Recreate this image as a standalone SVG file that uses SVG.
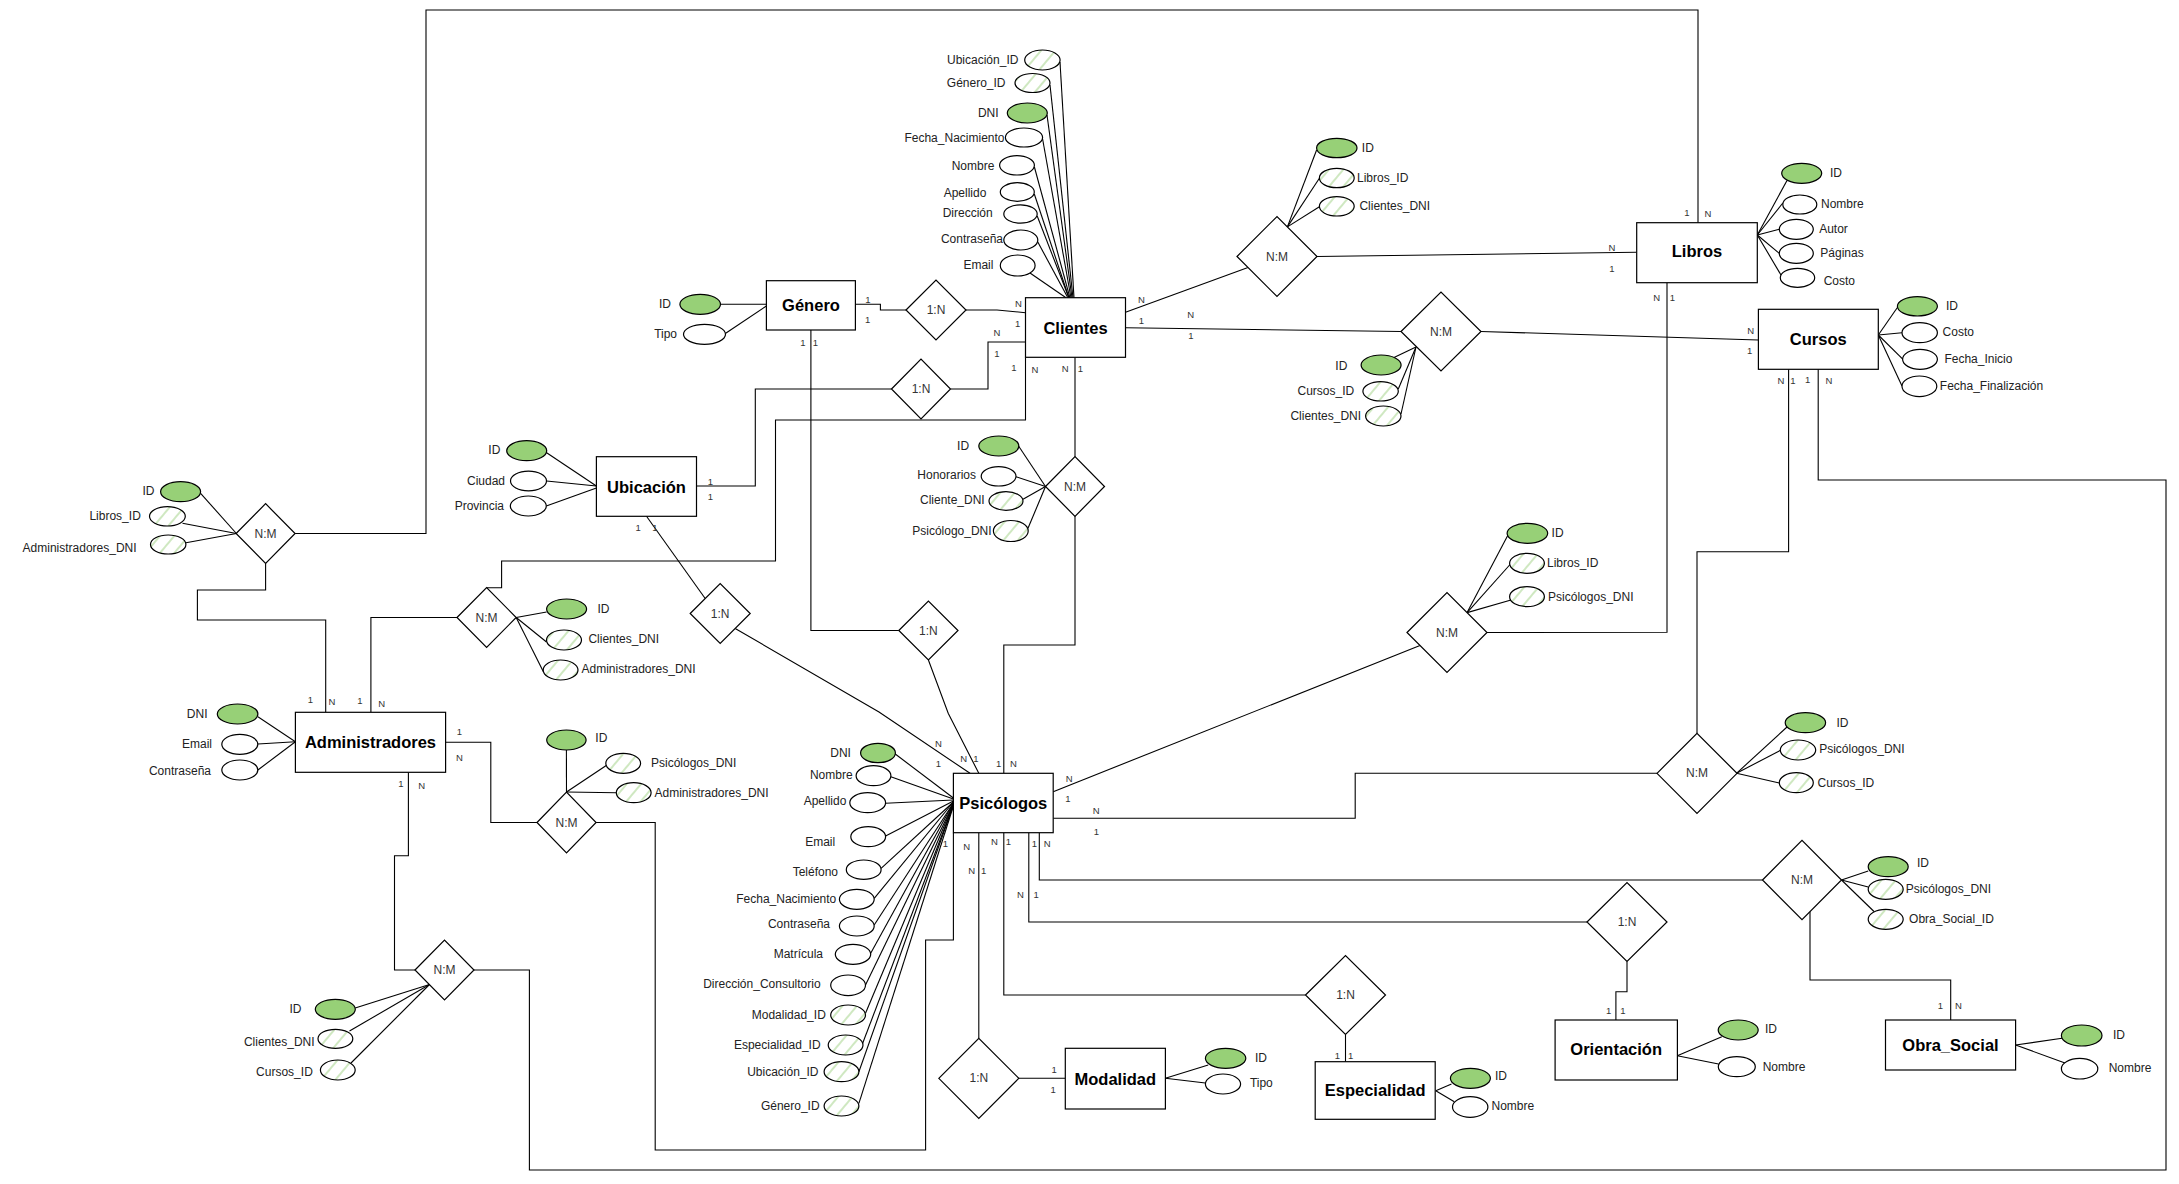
<svg xmlns="http://www.w3.org/2000/svg" width="2179" height="1184" viewBox="0 0 2179 1184">
<defs>
<pattern id="hatch" patternUnits="userSpaceOnUse" width="11" height="11" patternTransform="rotate(40)">
<rect width="11" height="11" fill="#fff"/>
<line x1="5" y1="0" x2="5" y2="11" stroke="#9fd184" stroke-width="1"/>
</pattern>
<style>
text{font-family:"Liberation Sans",Arial,sans-serif;dominant-baseline:central}
.ent rect{fill:#fff;stroke:#000;stroke-width:1.2}
.ent text{font-size:16.5px;font-weight:bold;text-anchor:middle;fill:#000}
.rel polygon{fill:#fff;stroke:#000;stroke-width:1.2}
.rel text{font-size:12px;text-anchor:middle;fill:#333}
.pk{fill:#97d077;stroke:#000;stroke-width:1.2}
.at{fill:#fff;stroke:#000;stroke-width:1.2}
.fk{fill:url(#hatch);stroke:#000;stroke-width:1.2}
.lbl{font-size:12px;fill:#222}
.e{text-anchor:end}.s{text-anchor:start}.m{text-anchor:middle}
.card{font-size:9.5px;fill:#333;text-anchor:middle}
.cn{fill:none;stroke:#000;stroke-width:1.1}
</style>
</defs>
<rect width="2179" height="1184" fill="#fff"/>

<g id="connectors">
<!-- entity-relationship connectors -->
<polyline class="cn" points="855.4,304.3 880.4,304.3 880.4,310 906,310"/>
<polyline class="cn" points="966,310 997,310 1025.5,312.7"/>
<polyline class="cn" points="950.5,389 988,389 988,342 1025.5,342"/>
<polyline class="cn" points="891.5,389 755.3,389 755.3,486 696.5,486"/>
<polyline class="cn" points="1125.5,312.3 1248,267.5"/>
<polyline class="cn" points="1317,256.5 1636.7,252.3"/>
<polyline class="cn" points="1125.5,327.7 1401,331.5"/>
<polyline class="cn" points="1481,331.5 1758.4,340"/>
<polyline class="cn" points="1075,357.3 1075,456.7"/>
<polyline class="cn" points="1075,516.3 1075,645 1003.8,645 1003.8,773.3"/>
<polyline class="cn" points="295.1,533.5 426,533.5 426,10 1698,10 1698,222.7"/>
<polyline class="cn" points="265.6,563.3 265.6,590 197.4,590 197.4,620 325.7,620 325.7,712.3"/>
<polyline class="cn" points="457,617.5 370.9,617.5 370.9,712.3"/>
<polyline class="cn" points="486.6,587.7 501.6,587.7 501.6,561 775.5,561 775.5,420 1025.5,420 1025.5,357.3"/>
<polyline class="cn" points="646.5,516.3 705.2,598.5"/>
<polyline class="cn" points="735.2,628.5 879,712 970,773.3"/>
<polyline class="cn" points="810.9,330 810.9,630.5 898.8,630.5"/>
<polyline class="cn" points="928.4,660 948.2,713.3 978.8,773.3"/>
<polyline class="cn" points="1053.2,791.7 1420,645.5"/>
<polyline class="cn" points="1487,632.5 1667,632.3 1667,282.7"/>
<polyline class="cn" points="1053.2,818.3 1355.2,818.3 1355.2,773.3 1657,773.3"/>
<polyline class="cn" points="1697,733.3 1697,551.7 1788.6,551.7 1788.6,369.3"/>
<polyline class="cn" points="1818.2,369.3 1818.2,480 2166,480 2166,1170 529.4,1170 529.4,970 474,970"/>
<polyline class="cn" points="408.4,772.3 408.4,855.7 394.5,855.7 394.5,970 415,970"/>
<polyline class="cn" points="445.6,742.3 490.8,742.3 490.8,822.5 537,822.5"/>
<polyline class="cn" points="596.1,822.5 655.2,822.5 655.2,1150 925.6,1150 925.6,940 953.4,940 953.4,832.7"/>
<polyline class="cn" points="1039.3,832.7 1039.3,880 1762.5,880"/>
<polyline class="cn" points="1810,911.6 1810,980 1950.7,980 1950.7,1020"/>
<polyline class="cn" points="1028.8,832.7 1028.8,922 1587,922"/>
<polyline class="cn" points="1627,961.5 1627,991.7 1615.9,991.7 1615.9,1020"/>
<polyline class="cn" points="1003.8,832.7 1003.8,995 1305.5,995"/>
<polyline class="cn" points="1345.5,1034.5 1345.5,1061.7"/>
<polyline class="cn" points="978.8,832.7 978.8,1038.3"/>
<polyline class="cn" points="1018.8,1078.3 1065.3,1078.3"/>
<!-- attribute links -->
<g class="cn">
<line x1="1060" y1="62" x2="1074" y2="298"/>
<line x1="1050" y1="85" x2="1073" y2="298"/>
<line x1="1047" y1="115" x2="1072" y2="298"/>
<line x1="1042.6" y1="139" x2="1071" y2="298"/>
<line x1="1034.4" y1="167" x2="1070" y2="298"/>
<line x1="1034.3" y1="194" x2="1069" y2="298"/>
<line x1="1037.2" y1="216" x2="1069" y2="298"/>
<line x1="1037.8" y1="242" x2="1068" y2="298"/>
<line x1="1030" y1="273" x2="1066" y2="297.7"/>
<line x1="720.5" y1="304.3" x2="766.4" y2="304.3"/>
<line x1="725.7" y1="333.3" x2="766.4" y2="306"/>
<line x1="545.5" y1="452" x2="596.4" y2="486"/>
<line x1="546.5" y1="481" x2="596.4" y2="486"/>
<line x1="546.3" y1="506" x2="596.4" y2="488"/>
<line x1="257.9" y1="716.7" x2="295.4" y2="741.7"/>
<line x1="257.9" y1="744" x2="295.4" y2="741.7"/>
<line x1="257.9" y1="770" x2="295.4" y2="741.7"/>
<line x1="200.6" y1="493.3" x2="236.4" y2="533.5"/>
<line x1="182.5" y1="523.3" x2="236.4" y2="533.5"/>
<line x1="186" y1="542.7" x2="236.4" y2="533.5"/>
<line x1="516.2" y1="617.5" x2="546.6" y2="612"/>
<line x1="516.2" y1="617.5" x2="546.5" y2="642"/>
<line x1="516.2" y1="617.5" x2="543.5" y2="672"/>
<line x1="1018.4" y1="445.7" x2="1045.5" y2="486.5"/>
<line x1="1016" y1="476.7" x2="1045.5" y2="486.5"/>
<line x1="1023" y1="499.3" x2="1045.5" y2="486.5"/>
<line x1="1028" y1="528.3" x2="1045.5" y2="486.5"/>
<line x1="1316.6" y1="150" x2="1287.4" y2="226.9"/>
<line x1="1319.4" y1="178.3" x2="1287.4" y2="226.9"/>
<line x1="1319.4" y1="206.7" x2="1287.4" y2="226.9"/>
<line x1="1394" y1="357.5" x2="1416" y2="347"/>
<line x1="1398.3" y1="389" x2="1416" y2="347"/>
<line x1="1401" y1="414" x2="1416" y2="347"/>
<line x1="1508" y1="535" x2="1467.1" y2="612.6"/>
<line x1="1510.5" y1="564" x2="1467.1" y2="612.6"/>
<line x1="1511" y1="600" x2="1467.1" y2="612.6"/>
<line x1="1736.5" y1="773.3" x2="1787" y2="727"/>
<line x1="1736.5" y1="773.3" x2="1781" y2="750"/>
<line x1="1736.5" y1="773.3" x2="1779.3" y2="783"/>
<line x1="1841.5" y1="880" x2="1868.2" y2="871"/>
<line x1="1841.5" y1="880" x2="1868.2" y2="887"/>
<line x1="1841.5" y1="880" x2="1874" y2="911.5"/>
<line x1="566.4" y1="750" x2="566.5" y2="792"/>
<line x1="607" y1="765" x2="566.5" y2="792"/>
<line x1="616.3" y1="792.7" x2="566.5" y2="792"/>
<line x1="355.2" y1="1008" x2="429.5" y2="984.5"/>
<line x1="349.5" y1="1031" x2="429.5" y2="984.5"/>
<line x1="351" y1="1063" x2="429.5" y2="984.5"/>
<line x1="1757.3" y1="235" x2="1787" y2="180.5"/>
<line x1="1757.3" y1="235" x2="1782.8" y2="203"/>
<line x1="1757.3" y1="235" x2="1779.3" y2="229.3"/>
<line x1="1757.3" y1="235" x2="1779.3" y2="253.3"/>
<line x1="1757.3" y1="235" x2="1781" y2="275"/>
<line x1="1878.3" y1="335" x2="1897.4" y2="307.5"/>
<line x1="1878.3" y1="335" x2="1902" y2="332.7"/>
<line x1="1878.3" y1="335" x2="1903" y2="359.3"/>
<line x1="1878.3" y1="335" x2="1902" y2="386"/>
<line x1="1165.4" y1="1078.3" x2="1208.2" y2="1065"/>
<line x1="1165.4" y1="1078.3" x2="1205.4" y2="1083"/>
<line x1="1435.8" y1="1090.7" x2="1451.5" y2="1084"/>
<line x1="1435.8" y1="1090.7" x2="1454.3" y2="1101.7"/>
<line x1="1677.3" y1="1055.7" x2="1721.8" y2="1036.7"/>
<line x1="1677.3" y1="1055.7" x2="1718.5" y2="1064"/>
<line x1="2015.6" y1="1045" x2="2062" y2="1038.3"/>
<line x1="2015.6" y1="1045" x2="2065" y2="1063"/>
<line x1="894.3" y1="753.3" x2="953.4" y2="798"/>
<line x1="890.8" y1="776.7" x2="953.4" y2="799"/>
<line x1="885.6" y1="803.3" x2="953.4" y2="800"/>
<line x1="885.6" y1="836" x2="953.4" y2="801"/>
<line x1="881.1" y1="868.3" x2="953.4" y2="802"/>
<line x1="874.2" y1="898.3" x2="953.4" y2="802"/>
<line x1="874.2" y1="925" x2="953.4" y2="803"/>
<line x1="870.7" y1="953.3" x2="953.4" y2="803"/>
<line x1="865.5" y1="985" x2="953.4" y2="804"/>
<line x1="865.5" y1="1013.3" x2="953.4" y2="804"/>
<line x1="862" y1="1045" x2="953.4" y2="805"/>
<line x1="858.9" y1="1071.7" x2="953.4" y2="805"/>
<line x1="858.9" y1="1103.3" x2="953.4" y2="806"/>
</g>
<!-- cardinality labels -->
<g>
<text class="card" x="1687" y="212">1</text><text class="card" x="1708" y="213">N</text>
<text class="card" x="868" y="299.3">1</text><text class="card" x="867.6" y="319.3">1</text>
<text class="card" x="1018.4" y="303.3">N</text><text class="card" x="1017.7" y="323.3">1</text>
<text class="card" x="997" y="332">N</text><text class="card" x="997" y="353">1</text>
<text class="card" x="1014" y="367">1</text><text class="card" x="1035" y="369.3">N</text>
<text class="card" x="1065.3" y="368.3">N</text><text class="card" x="1080.3" y="368.3">1</text>
<text class="card" x="802.9" y="342.3">1</text><text class="card" x="815.4" y="342.3">1</text>
<text class="card" x="710.5" y="481.7">1</text><text class="card" x="710.5" y="496.7">1</text>
<text class="card" x="638.2" y="527.7">1</text><text class="card" x="654.8" y="527.7">1</text>
<text class="card" x="1141.4" y="299.3">N</text><text class="card" x="1141.4" y="320">1</text>
<text class="card" x="1190.8" y="314.3">N</text><text class="card" x="1190.8" y="335">1</text>
<text class="card" x="1612" y="247.3">N</text><text class="card" x="1612" y="268.3">1</text>
<text class="card" x="1656.6" y="297.3">N</text><text class="card" x="1672.5" y="297.3">1</text>
<text class="card" x="1750.7" y="330">N</text><text class="card" x="1749.7" y="350.7">1</text>
<text class="card" x="1781" y="380">N</text><text class="card" x="1793" y="380">1</text>
<text class="card" x="1807.7" y="379">1</text><text class="card" x="1829" y="380.7">N</text>
<text class="card" x="310.4" y="699.3">1</text><text class="card" x="332" y="701.7">N</text>
<text class="card" x="359.8" y="700">1</text><text class="card" x="381.6" y="703.3">N</text>
<text class="card" x="459.5" y="731.7">1</text><text class="card" x="459.5" y="757.3">N</text>
<text class="card" x="400.8" y="783.3">1</text><text class="card" x="421.6" y="785.7">N</text>
<text class="card" x="938.5" y="743.3">N</text><text class="card" x="938.5" y="763.3">1</text>
<text class="card" x="963.8" y="758.3">N</text><text class="card" x="976" y="758.3">1</text>
<text class="card" x="998.6" y="763.3">1</text><text class="card" x="1013.5" y="763.3">N</text>
<text class="card" x="1069.2" y="778.3">N</text><text class="card" x="1068" y="798.3">1</text>
<text class="card" x="1096.3" y="810.7">N</text><text class="card" x="1096.3" y="831.7">1</text>
<text class="card" x="945.4" y="843.3">1</text><text class="card" x="966.6" y="846.7">N</text>
<text class="card" x="971.8" y="870">N</text><text class="card" x="983.7" y="870">1</text>
<text class="card" x="994.4" y="841.7">N</text><text class="card" x="1008.3" y="841.7">1</text>
<text class="card" x="1034.4" y="843.3">1</text><text class="card" x="1047.3" y="843.3">N</text>
<text class="card" x="1020.5" y="894.3">N</text><text class="card" x="1036.1" y="894.3">1</text>
<text class="card" x="1054.2" y="1069.3">1</text><text class="card" x="1053.2" y="1089.3">1</text>
<text class="card" x="1337.5" y="1055">1</text><text class="card" x="1350.7" y="1055">1</text>
<text class="card" x="1608.6" y="1010.7">1</text><text class="card" x="1622.8" y="1010.7">1</text>
<text class="card" x="1940.3" y="1005.7">1</text><text class="card" x="1958.4" y="1005.7">N</text>
</g>
</g>

<!-- entities -->
<g id="genero" class="ent"><rect x="766.4" y="280.7" width="89" height="49.3"/><text x="811" y="305.3">Género</text></g>
<g id="clientes" class="ent"><rect x="1025.5" y="297.7" width="100" height="59.6"/><text x="1075.5" y="327.5">Clientes</text></g>
<g id="ubicacion" class="ent"><rect x="596.4" y="456.7" width="100.1" height="59.6"/><text x="646.5" y="486.5">Ubicación</text></g>
<g id="libros" class="ent"><rect x="1636.7" y="222.7" width="120.6" height="60"/><text x="1697" y="251">Libros</text></g>
<g id="cursos" class="ent"><rect x="1758.4" y="309.3" width="119.9" height="60"/><text x="1818.3" y="338.5">Cursos</text></g>
<g id="administradores" class="ent"><rect x="295.4" y="712.3" width="150.2" height="60"/><text x="370.5" y="741.7">Administradores</text></g>
<g id="psicologos" class="ent"><rect x="953.4" y="773.3" width="99.8" height="59.4"/><text x="1003.3" y="802.7">Psicólogos</text></g>
<g id="modalidad" class="ent"><rect x="1065.3" y="1048.3" width="100.1" height="60.7"/><text x="1115.3" y="1079">Modalidad</text></g>
<g id="especialidad" class="ent"><rect x="1315.2" y="1061.7" width="120" height="57.6"/><text x="1375.2" y="1089.5">Especialidad</text></g>
<g id="orientacion" class="ent"><rect x="1555.1" y="1020" width="122.3" height="60"/><text x="1616.2" y="1049.3">Orientación</text></g>
<g id="obra_social" class="ent"><rect x="1885.5" y="1020" width="130.1" height="50"/><text x="1950.5" y="1044.5">Obra_Social</text></g>

<!-- relationships -->
<g id="rel-genero-clientes" class="rel"><polygon points="906,310 936,280 966,310 936,340"/><text x="936" y="310">1:N</text></g>
<g id="rel-ubicacion-clientes" class="rel"><polygon points="891.5,389 921,359 950.5,389 921,419"/><text x="921" y="389">1:N</text></g>
<g id="rel-clientes-libros" class="rel"><polygon points="1237,256.5 1277,216.5 1317,256.5 1277,296.5"/><text x="1277" y="256.5">N:M</text></g>
<g id="rel-clientes-cursos" class="rel"><polygon points="1401,331.5 1441,292 1481,331.5 1441,371"/><text x="1441" y="331.5">N:M</text></g>
<g id="rel-clientes-psicologos" class="rel"><polygon points="1045.5,486.5 1075,456.7 1104.5,486.5 1075,516.3"/><text x="1075" y="486.5">N:M</text></g>
<g id="rel-admin-libros" class="rel"><polygon points="236.1,533.5 265.6,503.7 295.1,533.5 265.6,563.3"/><text x="265.6" y="533.5">N:M</text></g>
<g id="rel-admin-clientes" class="rel"><polygon points="457,617.5 486.6,587.7 516.2,617.5 486.6,647.3"/><text x="486.6" y="617.5">N:M</text></g>
<g id="rel-ubicacion-psicologos" class="rel"><polygon points="690.2,613.5 720.2,583.5 750.2,613.5 720.2,643.5"/><text x="720.2" y="613.5">1:N</text></g>
<g id="rel-genero-psicologos" class="rel"><polygon points="898.8,630.5 928.4,601 958,630.5 928.4,660"/><text x="928.4" y="630.5">1:N</text></g>
<g id="rel-libros-psicologos" class="rel"><polygon points="1407,632.5 1447,592.5 1487,632.5 1447,672.5"/><text x="1447" y="632.5">N:M</text></g>
<g id="rel-psicologos-cursos" class="rel"><polygon points="1657,773.3 1697,733.3 1737,773.3 1697,813.3"/><text x="1697" y="773.3">N:M</text></g>
<g id="rel-admin-psicologos" class="rel"><polygon points="537,822.5 566.5,792 596.1,822.5 566.5,853"/><text x="566.5" y="822.5">N:M</text></g>
<g id="rel-psicologos-obra" class="rel"><polygon points="1762.5,880 1802,840.4 1841.5,880 1802,919.6"/><text x="1802" y="880">N:M</text></g>
<g id="rel-psicologos-orientacion" class="rel"><polygon points="1587,922 1627,882.5 1667,922 1627,961.5"/><text x="1627" y="922">1:N</text></g>
<g id="rel-psicologos-especialidad" class="rel"><polygon points="1305.5,995 1345.5,955.5 1385.5,995 1345.5,1034.5"/><text x="1345.5" y="995">1:N</text></g>
<g id="rel-psicologos-modalidad" class="rel"><polygon points="938.8,1078.3 978.8,1038.3 1018.8,1078.3 978.8,1118.3"/><text x="978.8" y="1078.3">1:N</text></g>
<g id="rel-clientes-cursos-admin" class="rel"><polygon points="415,970 444.5,940 474,970 444.5,1000"/><text x="444.5" y="970">N:M</text></g>

<!-- attributes: Clientes -->
<g id="cli-ubicacion_id"><ellipse class="fk" cx="1042.4" cy="60" rx="17.7" ry="10"/><text class="lbl e" x="1018.4" y="60">Ubicación_ID</text></g>
<g id="cli-genero_id"><ellipse class="fk" cx="1032.5" cy="83" rx="17.5" ry="9.5"/><text class="lbl e" x="1005.5" y="83">Género_ID</text></g>
<g id="cli-dni"><ellipse class="pk" cx="1027.3" cy="113" rx="20" ry="10"/><text class="lbl e" x="998.6" y="113">DNI</text></g>
<g id="cli-fecha_nac"><ellipse class="at" cx="1024" cy="137.5" rx="18.6" ry="9.5"/><text class="lbl e" x="1004.5" y="138">Fecha_Nacimiento</text></g>
<g id="cli-nombre"><ellipse class="at" cx="1017" cy="165.3" rx="17.4" ry="9.7"/><text class="lbl e" x="994.4" y="166">Nombre</text></g>
<g id="cli-apellido"><ellipse class="at" cx="1017.3" cy="192" rx="17" ry="9.3"/><text class="lbl e" x="986.4" y="192.7">Apellido</text></g>
<g id="cli-direccion"><ellipse class="at" cx="1020.5" cy="214" rx="16.7" ry="9.2"/><text class="lbl e" x="992.7" y="212.7">Dirección</text></g>
<g id="cli-contrasena"><ellipse class="at" cx="1020.8" cy="240" rx="17" ry="10"/><text class="lbl e" x="1003" y="239.3">Contraseña</text></g>
<g id="cli-email"><ellipse class="at" cx="1017.7" cy="265.5" rx="17.4" ry="10.5"/><text class="lbl e" x="993.4" y="265">Email</text></g>
<!-- Genero -->
<g id="gen-id"><ellipse class="pk" cx="700.2" cy="304.3" rx="20.3" ry="10"/><text class="lbl m" x="665" y="304.3">ID</text></g>
<g id="gen-tipo"><ellipse class="at" cx="704.5" cy="334.3" rx="21" ry="10"/><text class="lbl m" x="665.6" y="334.3">Tipo</text></g>
<!-- Ubicacion -->
<g id="ubi-id"><ellipse class="pk" cx="526.7" cy="450.7" rx="20" ry="10"/><text class="lbl m" x="494.3" y="450">ID</text></g>
<g id="ubi-ciudad"><ellipse class="at" cx="528.5" cy="481" rx="18" ry="9.8"/><text class="lbl e" x="505" y="480.7">Ciudad</text></g>
<g id="ubi-provincia"><ellipse class="at" cx="528.3" cy="506" rx="18" ry="10"/><text class="lbl e" x="504" y="506">Provincia</text></g>
<!-- Administradores -->
<g id="adm-dni"><ellipse class="pk" cx="237.6" cy="714" rx="20.3" ry="10"/><text class="lbl e" x="207.5" y="714">DNI</text></g>
<g id="adm-email"><ellipse class="at" cx="239.8" cy="744.3" rx="18" ry="10"/><text class="lbl e" x="212" y="744">Email</text></g>
<g id="adm-contrasena"><ellipse class="at" cx="239.8" cy="770" rx="18" ry="10"/><text class="lbl e" x="211" y="770.7">Contraseña</text></g>
<!-- Admin-Libros relation -->
<g id="al-id"><ellipse class="pk" cx="180.6" cy="491.7" rx="20" ry="10"/><text class="lbl m" x="148.4" y="491">ID</text></g>
<g id="al-libros_id"><ellipse class="fk" cx="167.4" cy="516.3" rx="17.9" ry="9.7"/><text class="lbl e" x="140.8" y="516">Libros_ID</text></g>
<g id="al-admin_dni"><ellipse class="fk" cx="168.2" cy="544.5" rx="17.7" ry="9.5"/><text class="lbl e" x="136.6" y="547.7">Administradores_DNI</text></g>
<!-- Admin-Clientes relation -->
<g id="ac-id"><ellipse class="pk" cx="566.6" cy="609" rx="20" ry="10"/><text class="lbl m" x="603.4" y="609.3">ID</text></g>
<g id="ac-clientes_dni"><ellipse class="fk" cx="564" cy="640" rx="17.5" ry="10"/><text class="lbl s" x="588.4" y="639.3">Clientes_DNI</text></g>
<g id="ac-admin_dni"><ellipse class="fk" cx="560.6" cy="670" rx="17.4" ry="10"/><text class="lbl s" x="581.5" y="669.3">Administradores_DNI</text></g>
<!-- Clientes-Psicologos relation -->
<g id="cp-id"><ellipse class="pk" cx="998.8" cy="446" rx="20" ry="10"/><text class="lbl m" x="963.1" y="445.7">ID</text></g>
<g id="cp-honorarios"><ellipse class="at" cx="998.6" cy="476.3" rx="17.4" ry="9.7"/><text class="lbl e" x="976" y="475">Honorarios</text></g>
<g id="cp-cliente_dni"><ellipse class="fk" cx="1006" cy="501" rx="17" ry="9.3"/><text class="lbl e" x="984.7" y="500">Cliente_DNI</text></g>
<g id="cp-psicologo_dni"><ellipse class="fk" cx="1010.8" cy="531" rx="17.4" ry="10.5"/><text class="lbl e" x="991.6" y="530.7">Psicólogo_DNI</text></g>
<!-- Clientes-Libros relation -->
<g id="cl-id"><ellipse class="pk" cx="1336.8" cy="148" rx="20.2" ry="9.7"/><text class="lbl s" x="1361.8" y="147.7">ID</text></g>
<g id="cl-libros_id"><ellipse class="fk" cx="1336.8" cy="178" rx="17.4" ry="9.7"/><text class="lbl s" x="1357" y="177.7">Libros_ID</text></g>
<g id="cl-clientes_dni"><ellipse class="fk" cx="1336.8" cy="206.3" rx="17.4" ry="9.7"/><text class="lbl s" x="1359.4" y="205.7">Clientes_DNI</text></g>
<!-- Clientes-Cursos relation -->
<g id="cc-id"><ellipse class="pk" cx="1381.1" cy="365" rx="20" ry="10"/><text class="lbl m" x="1341.3" y="365.7">ID</text></g>
<g id="cc-cursos_id"><ellipse class="fk" cx="1380.6" cy="391.3" rx="17.7" ry="9.7"/><text class="lbl e" x="1354.2" y="390.7">Cursos_ID</text></g>
<g id="cc-clientes_dni"><ellipse class="fk" cx="1383.3" cy="416" rx="17.7" ry="10"/><text class="lbl e" x="1361.1" y="415.7">Clientes_DNI</text></g>
<!-- Libros-Psicologos relation -->
<g id="lp-id"><ellipse class="pk" cx="1527.4" cy="533.3" rx="20.3" ry="10"/><text class="lbl s" x="1551.6" y="532.7">ID</text></g>
<g id="lp-libros_id"><ellipse class="fk" cx="1527" cy="563.3" rx="17.4" ry="10"/><text class="lbl s" x="1547" y="562.7">Libros_ID</text></g>
<g id="lp-psicologos_dni"><ellipse class="fk" cx="1527" cy="596.7" rx="17.4" ry="10"/><text class="lbl s" x="1548.1" y="596.7">Psicólogos_DNI</text></g>
<!-- Psicologos-Cursos relation -->
<g id="pc-id"><ellipse class="pk" cx="1805.4" cy="722.7" rx="20.2" ry="10"/><text class="lbl m" x="1842.5" y="722.7">ID</text></g>
<g id="pc-psicologos_dni"><ellipse class="fk" cx="1798" cy="750" rx="17.7" ry="10"/><text class="lbl s" x="1819.2" y="749.3">Psicólogos_DNI</text></g>
<g id="pc-cursos_id"><ellipse class="fk" cx="1796.3" cy="782.7" rx="17" ry="10"/><text class="lbl s" x="1817.5" y="782.7">Cursos_ID</text></g>
<!-- Psicologos-Obra relation -->
<g id="po-id"><ellipse class="pk" cx="1888.2" cy="866.7" rx="20" ry="10"/><text class="lbl m" x="1923" y="863.3">ID</text></g>
<g id="po-psicologos_dni"><ellipse class="fk" cx="1885.7" cy="889.3" rx="17.5" ry="10"/><text class="lbl s" x="1905.7" y="889">Psicólogos_DNI</text></g>
<g id="po-obra_id"><ellipse class="fk" cx="1885.7" cy="919.3" rx="17.5" ry="10"/><text class="lbl s" x="1909.1" y="919">Obra_Social_ID</text></g>
<!-- Admin-Psicologos relation -->
<g id="ap-id"><ellipse class="pk" cx="566.4" cy="740" rx="19.7" ry="10"/><text class="lbl m" x="601.3" y="737.7">ID</text></g>
<g id="ap-psicologos_dni"><ellipse class="fk" cx="623.2" cy="763.3" rx="17.4" ry="10"/><text class="lbl s" x="651" y="762.7">Psicólogos_DNI</text></g>
<g id="ap-admin_dni"><ellipse class="fk" cx="633.7" cy="792.7" rx="17.4" ry="10"/><text class="lbl s" x="654.5" y="792.7">Administradores_DNI</text></g>
<!-- bottom-left relation -->
<g id="bc-id"><ellipse class="pk" cx="335.3" cy="1009.3" rx="20" ry="10"/><text class="lbl m" x="295.4" y="1009">ID</text></g>
<g id="bc-clientes_dni"><ellipse class="fk" cx="335.4" cy="1038.8" rx="17.4" ry="9.5"/><text class="lbl e" x="314.6" y="1041.7">Clientes_DNI</text></g>
<g id="bc-cursos_id"><ellipse class="fk" cx="337.8" cy="1070" rx="17.4" ry="10"/><text class="lbl e" x="312.8" y="1071.7">Cursos_ID</text></g>
<!-- Libros -->
<g id="lib-id"><ellipse class="pk" cx="1801.7" cy="173.3" rx="20" ry="10"/><text class="lbl s" x="1830" y="172.7">ID</text></g>
<g id="lib-nombre"><ellipse class="at" cx="1799.8" cy="204.5" rx="17" ry="9.5"/><text class="lbl s" x="1821" y="204">Nombre</text></g>
<g id="lib-autor"><ellipse class="at" cx="1796.3" cy="229.3" rx="17" ry="10"/><text class="lbl s" x="1819.2" y="229">Autor</text></g>
<g id="lib-paginas"><ellipse class="at" cx="1796.3" cy="253.3" rx="17" ry="10"/><text class="lbl s" x="1820.3" y="253.3">Páginas</text></g>
<g id="lib-costo"><ellipse class="at" cx="1797.5" cy="277.8" rx="17.2" ry="9.5"/><text class="lbl s" x="1823.7" y="280.7">Costo</text></g>
<!-- Cursos -->
<g id="cur-id"><ellipse class="pk" cx="1917.4" cy="306.3" rx="20" ry="9.7"/><text class="lbl s" x="1946" y="306">ID</text></g>
<g id="cur-costo"><ellipse class="at" cx="1919.7" cy="332.7" rx="17.7" ry="10"/><text class="lbl s" x="1942.6" y="331.7">Costo</text></g>
<g id="cur-fecha_inicio"><ellipse class="at" cx="1920" cy="359.3" rx="17.4" ry="10"/><text class="lbl s" x="1944.4" y="359">Fecha_Inicio</text></g>
<g id="cur-fecha_fin"><ellipse class="at" cx="1919.4" cy="386.3" rx="17.4" ry="10.3"/><text class="lbl s" x="1939.8" y="385.7">Fecha_Finalización</text></g>
<!-- Modalidad -->
<g id="mod-id"><ellipse class="pk" cx="1225.6" cy="1058.3" rx="20.2" ry="10"/><text class="lbl s" x="1255" y="1058.3">ID</text></g>
<g id="mod-tipo"><ellipse class="at" cx="1223" cy="1084" rx="17.6" ry="10"/><text class="lbl s" x="1249.9" y="1083.3">Tipo</text></g>
<!-- Especialidad -->
<g id="esp-id"><ellipse class="pk" cx="1470.4" cy="1078.3" rx="20" ry="10"/><text class="lbl s" x="1495" y="1075.7">ID</text></g>
<g id="esp-nombre"><ellipse class="at" cx="1470.2" cy="1107" rx="17.7" ry="10.3"/><text class="lbl s" x="1491.5" y="1105.7">Nombre</text></g>
<!-- Orientacion -->
<g id="ori-id"><ellipse class="pk" cx="1738.2" cy="1030" rx="20" ry="10"/><text class="lbl s" x="1765" y="1029">ID</text></g>
<g id="ori-nombre"><ellipse class="at" cx="1736.8" cy="1066.7" rx="18.5" ry="10"/><text class="lbl s" x="1762.7" y="1066.7">Nombre</text></g>
<!-- Obra Social -->
<g id="obra-id"><ellipse class="pk" cx="2081.7" cy="1035.5" rx="20.3" ry="10.5"/><text class="lbl s" x="2113" y="1035">ID</text></g>
<g id="obra-nombre"><ellipse class="at" cx="2079.6" cy="1068.7" rx="18.2" ry="10.3"/><text class="lbl s" x="2108.7" y="1068.3">Nombre</text></g>
<!-- Psicologos -->
<g id="psi-dni"><ellipse class="pk" cx="878" cy="753" rx="17.4" ry="9.7"/><text class="lbl e" x="850.9" y="752.7">DNI</text></g>
<g id="psi-nombre"><ellipse class="at" cx="873.5" cy="775.7" rx="17.4" ry="10"/><text class="lbl e" x="852.6" y="775">Nombre</text></g>
<g id="psi-apellido"><ellipse class="at" cx="867.7" cy="802.7" rx="17.9" ry="10"/><text class="lbl e" x="846.4" y="800.7">Apellido</text></g>
<g id="psi-email"><ellipse class="at" cx="868.2" cy="836.7" rx="17.4" ry="10"/><text class="lbl e" x="835.2" y="841.7">Email</text></g>
<g id="psi-telefono"><ellipse class="at" cx="863.7" cy="869.7" rx="17.4" ry="9.7"/><text class="lbl e" x="838" y="871.7">Teléfono</text></g>
<g id="psi-fecha_nac"><ellipse class="at" cx="856.8" cy="899.3" rx="17.4" ry="10"/><text class="lbl e" x="836.3" y="899">Fecha_Nacimiento</text></g>
<g id="psi-contrasena"><ellipse class="at" cx="856.8" cy="926" rx="17.4" ry="10"/><text class="lbl e" x="830" y="924">Contraseña</text></g>
<g id="psi-matricula"><ellipse class="at" cx="853" cy="954.3" rx="17.7" ry="10"/><text class="lbl e" x="823" y="954">Matrícula</text></g>
<g id="psi-direccion"><ellipse class="at" cx="848.1" cy="985.3" rx="17.4" ry="10.3"/><text class="lbl e" x="820.6" y="984">Dirección_Consultorio</text></g>
<g id="psi-modalidad_id"><ellipse class="fk" cx="848.1" cy="1015" rx="17.4" ry="10"/><text class="lbl e" x="825.8" y="1015">Modalidad_ID</text></g>
<g id="psi-especialidad_id"><ellipse class="fk" cx="845.6" cy="1045" rx="17.4" ry="10"/><text class="lbl e" x="820.6" y="1045">Especialidad_ID</text></g>
<g id="psi-ubicacion_id"><ellipse class="fk" cx="841.5" cy="1071.7" rx="17.4" ry="10"/><text class="lbl e" x="818.5" y="1072.3">Ubicación_ID</text></g>
<g id="psi-genero_id"><ellipse class="fk" cx="841.5" cy="1106" rx="17.4" ry="10"/><text class="lbl e" x="819.6" y="1106">Género_ID</text></g>
</svg>
